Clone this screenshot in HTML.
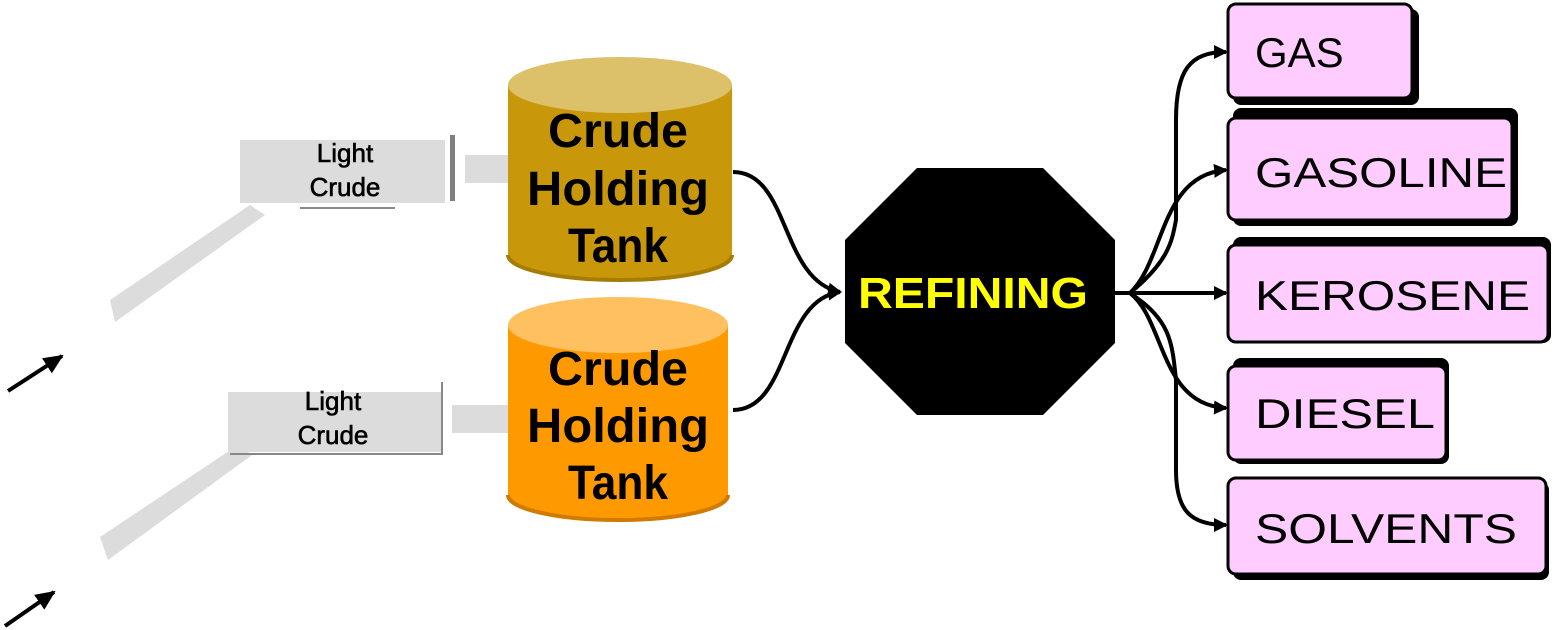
<!DOCTYPE html>
<html><head><style>
html,body{margin:0;padding:0;background:#fff;width:1555px;height:630px;overflow:hidden}
svg{display:block}
</style></head><body>
<svg width="1555" height="630" viewBox="0 0 1555 630" xmlns="http://www.w3.org/2000/svg">
<defs>
<marker id="ah2" markerWidth="14" markerHeight="14" refX="12" refY="7" orient="auto" markerUnits="userSpaceOnUse"><path d="M0,0 L14,7 L0,14 z" fill="#000"/></marker>
<marker id="ah3" markerWidth="20" markerHeight="18" refX="18" refY="9" orient="auto" markerUnits="userSpaceOnUse"><path d="M0,0 L20,9 L0,18 z" fill="#000"/></marker>
</defs>
<polygon points="110,300 250,205 265,215 115,322" fill="#dcdcdc"/>
<polygon points="100,537 238,445 252,455 108,560" fill="#dcdcdc"/>
<line x1="8" y1="391" x2="62" y2="356" stroke="#000" stroke-width="4" marker-end="url(#ah3)"/>
<line x1="5" y1="626" x2="54" y2="592" stroke="#000" stroke-width="4" marker-end="url(#ah3)"/>
<rect x="240" y="140" width="205" height="63" fill="#dcdcdc"/>
<rect x="450" y="135" width="5" height="66" fill="#808080"/>
<rect x="465" y="155" width="45" height="28" fill="#dcdcdc"/>
<line x1="300" y1="208" x2="395" y2="208" stroke="#888" stroke-width="2"/>
<g font-family="Liberation Sans,sans-serif" font-size="26" text-anchor="middle" fill="#000" stroke="#000" stroke-width="0.6">
<text x="345" y="162">Light</text>
<text x="345" y="196">Crude</text>
<text x="333" y="410">Light</text>
<text x="333" y="444">Crude</text>
</g>
<rect x="228" y="392" width="214" height="60" fill="#dcdcdc"/>
<path d="M230,454 H442 V382" fill="none" stroke="#888" stroke-width="2"/>
<rect x="452" y="405" width="58" height="28" fill="#dcdcdc"/>
<g font-family="Liberation Sans,sans-serif" font-size="26" text-anchor="middle" fill="#000" stroke="#000" stroke-width="0.6">
<text x="333" y="410">Light</text>
<text x="333" y="444">Crude</text>
</g>
<path d="M508,85 V255 A112,25 0 0 0 732,255 V85 z" fill="#c8980a"/>
<path d="M508,255 A112,25 0 0 0 732,255" fill="none" stroke="#a57d05" stroke-width="4"/>
<ellipse cx="620" cy="85" rx="112" ry="28" fill="#dcc06a"/>
<path d="M508,325 V495 A110,25 0 0 0 728,495 V325 z" fill="#ff9900"/>
<path d="M508,495 A110,25 0 0 0 728,495" fill="none" stroke="#d07a00" stroke-width="4"/>
<ellipse cx="618" cy="325" rx="110" ry="28" fill="#ffc060"/>
<g font-family="Liberation Sans,sans-serif" font-weight="bold" font-size="48" text-anchor="middle" fill="#000">
<text x="618" y="147" textLength="140" lengthAdjust="spacingAndGlyphs">Crude</text>
<text x="618" y="205" textLength="182" lengthAdjust="spacingAndGlyphs">Holding</text>
<text x="618" y="262" textLength="100" lengthAdjust="spacingAndGlyphs">Tank</text>
<text x="618" y="385" textLength="140" lengthAdjust="spacingAndGlyphs">Crude</text>
<text x="618" y="442" textLength="182" lengthAdjust="spacingAndGlyphs">Holding</text>
<text x="618" y="499" textLength="100" lengthAdjust="spacingAndGlyphs">Tank</text>
</g>
<path d="M733,172 C790,172 780,280 840,292" fill="none" stroke="#000" stroke-width="4" marker-end="url(#ah2)"/>
<path d="M733,410 C790,410 780,300 840,292" fill="none" stroke="#000" stroke-width="4" marker-end="url(#ah2)"/>
<polygon points="917,168 1043,168 1115,240 1115,343 1043,415 917,415 845,343 845,240" fill="#000"/>
<text x="973" y="308" font-family="Liberation Sans,sans-serif" font-weight="bold" font-size="44" text-anchor="middle" fill="#ffff00" textLength="230" lengthAdjust="spacingAndGlyphs">REFINING</text>
<g fill="none" stroke="#000" stroke-width="4">
<line x1="1115" y1="293" x2="1226" y2="293" marker-end="url(#ah2)"/>
<path d="M1130,293 C1170,260 1172,240 1176,220 V120 C1176,70 1190,52 1226,52" marker-end="url(#ah2)"/>
<path d="M1130,293 C1165,260 1160,175 1226,170" marker-end="url(#ah2)"/>
<path d="M1130,293 C1165,320 1160,405 1226,408" marker-end="url(#ah2)"/>
<path d="M1130,293 C1170,320 1172,340 1176,380 V470 C1176,510 1190,525 1226,525" marker-end="url(#ah2)"/>
</g>
<g font-family="Liberation Sans,sans-serif" font-size="42" fill="#000">
<rect x="1233" y="9" width="186" height="96" rx="8" fill="#000"/>
<rect x="1228" y="4" width="184" height="94" rx="8" fill="#ffccff" stroke="#000" stroke-width="3"/>
<text x="1255" y="67">GAS</text>
<rect x="1233" y="108" width="285" height="118" rx="8" fill="#000"/>
<rect x="1228" y="118" width="284" height="102" rx="8" fill="#ffccff" stroke="#000" stroke-width="3"/>
<text x="1255" y="187" textLength="252" lengthAdjust="spacingAndGlyphs">GASOLINE</text>
<rect x="1233" y="237" width="318" height="106" rx="8" fill="#000"/>
<rect x="1228" y="245" width="320" height="97" rx="8" fill="#ffccff" stroke="#000" stroke-width="3"/>
<text x="1255" y="310" textLength="275" lengthAdjust="spacingAndGlyphs">KEROSENE</text>
<rect x="1233" y="358" width="216" height="106" rx="8" fill="#000"/>
<rect x="1228" y="366" width="218" height="94" rx="8" fill="#ffccff" stroke="#000" stroke-width="3"/>
<text x="1255" y="428" textLength="180" lengthAdjust="spacingAndGlyphs">DIESEL</text>
<rect x="1233" y="482" width="316" height="98" rx="8" fill="#000"/>
<rect x="1228" y="478" width="318" height="96" rx="8" fill="#ffccff" stroke="#000" stroke-width="3"/>
<text x="1255" y="543" textLength="262" lengthAdjust="spacingAndGlyphs">SOLVENTS</text>
</g>
</svg>
</body></html>
